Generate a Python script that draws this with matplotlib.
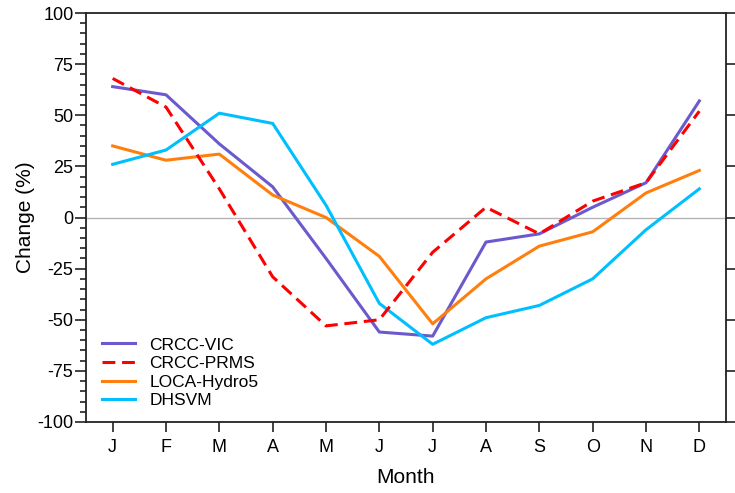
import matplotlib
matplotlib.use("Agg")
import matplotlib.pyplot as plt
from matplotlib.ticker import MultipleLocator

plt.rcParams['font.family'] = ['Liberation Sans', 'DejaVu Sans']
plt.rcParams['axes.unicode_minus'] = False

months = ["J", "F", "M", "A", "M", "J", "J", "A", "S", "O", "N", "D"]
crcc_vic = [64, 60, 36, 15, -20, -56, -58, -12, -8, 5, 17, 57]
crcc_prms = [68, 54, 14, -29, -53, -50, -17, 5, -8, 8, 17, 52]
loca_hydro5 = [35, 28, 31, 11, 0, -19, -52, -30, -14, -7, 12, 23]
dhsvm = [26, 33, 51, 46, 6, -42, -62, -49, -43, -30, -6, 14]

x = list(range(1, 13))

fig = plt.figure(figsize=(7.35, 4.93), dpi=100)
ax = fig.add_axes([86/735, 1 - 422/493, 640/735, 409/493])

ax.axhline(0, color="#b4b4b4", lw=1.0, zorder=1)
ax.plot(x, crcc_vic, color="#6a5acd", lw=2.2, label="CRCC-VIC", zorder=3)
ax.plot(x, crcc_prms, color="#ff0000", lw=2.2, ls=(0, (4.2, 2.2)), label="CRCC-PRMS", zorder=4)
ax.plot(x, loca_hydro5, color="#ff7f0e", lw=2.2, label="LOCA-Hydro5", zorder=3)
ax.plot(x, dhsvm, color="#00bfff", lw=2.2, label="DHSVM", zorder=3)

ax.set_xlim(0.5, 12.5)
ax.set_ylim(-100, 100)
ax.set_xticks(x)
ax.set_xticklabels(months)
ax.yaxis.set_major_locator(MultipleLocator(25))
ax.yaxis.set_minor_locator(MultipleLocator(5))
ax.tick_params(axis="both", which="major", direction="out", labelsize=13,
               width=1.2, length=8, color="#222222")
ax.tick_params(axis="y", which="major", pad=1, right=True)
ax.tick_params(axis="y", which="minor", direction="out", width=1.2, length=4,
               right=False, color="#222222")
ax.tick_params(axis="x", which="major", length=7, pad=5)
for s in ax.spines.values():
    s.set_linewidth(1.3)
    s.set_color("#222222")

ax.set_xlabel("Month", fontsize=15, labelpad=9)
ax.set_ylabel("Change (%)", fontsize=15, labelpad=2)

leg = ax.legend(loc="lower left", bbox_to_anchor=(0.0, -0.005), frameon=False,
                fontsize=12.5, handlelength=1.9, labelspacing=0.2,
                borderaxespad=0.5, handletextpad=0.85)

fig.savefig("out.png", dpi=100)
